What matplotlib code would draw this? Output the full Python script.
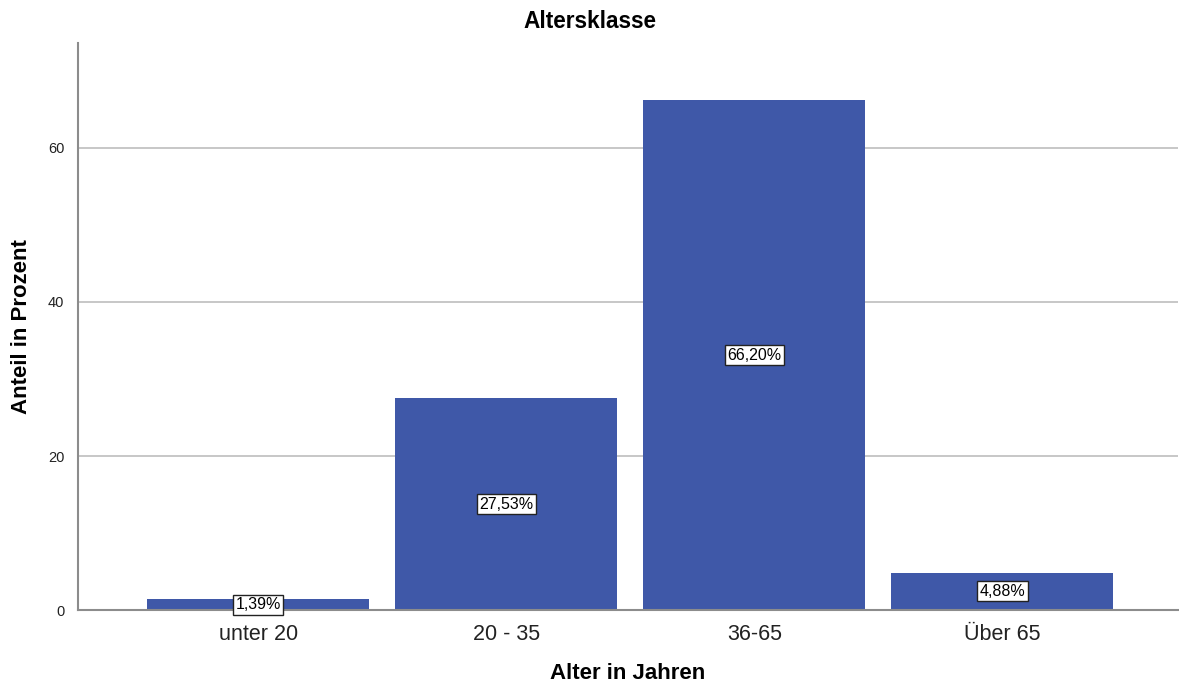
import numpy as np
import matplotlib.pyplot as plt

plt.rcParams['font.family'] = ['Liberation Sans', 'DejaVu Sans']

categories = ['unter 20', '20 - 35', '36-65', 'Über 65']
anteil = [1.39, 27.53, 66.20, 4.88]
value_labels = ['1,39%', '27,53%', '66,20%', '4,88%']

bar_color = '#3f58a8'
grid_color = '#bdbdbd'

fig = plt.figure(figsize=(11.79, 6.84), dpi=100)
ax = fig.add_axes([0.0662, 0.108, 0.9330, 0.829])

x = np.arange(len(categories))
ax.bar(x, anteil, width=0.895, color=bar_color, zorder=2)

for xi, v, lab in zip(x, anteil, value_labels):
    ax.text(xi, v / 2, lab, ha='center', va='center', fontsize=11.5, zorder=3,
            bbox=dict(boxstyle='square,pad=0.15', fc='white', ec='#222222', lw=1))

ax.set_xlim(-0.726, 3.708)
ax.set_ylim(0, 73.6)
ax.set_yticks([0, 20, 40, 60])
ax.yaxis.grid(True, color=grid_color, lw=1.2, zorder=0)
ax.set_axisbelow(True)

ax.set_xticks(x)
ax.set_xticklabels(categories, fontsize=15.5, color='#222222')
ax.tick_params(axis='y', labelsize=10.5, length=0, pad=10, colors='#222222')
ax.tick_params(axis='x', length=0, pad=10)

for s in ['top', 'right']:
    ax.spines[s].set_visible(False)
for s in ['left', 'bottom']:
    ax.spines[s].set_color('#8c8c8c')
    ax.spines[s].set_linewidth(1.5)

# title is centred on the whole figure, not the axes
fig.text(0.5, 1 - 22 / 684, 'Altersklasse', ha='center', va='center',
         fontsize=16.3, fontweight='bold')
ax.set_xlabel('Alter in Jahren', fontsize=16, fontweight='bold')
ax.xaxis.set_label_coords(0.5, -0.094)
ax.set_ylabel('Anteil in Prozent', fontsize=16, fontweight='bold')
ax.yaxis.set_label_coords(-0.042, 0.5)

fig.savefig('out.png', dpi=100)
